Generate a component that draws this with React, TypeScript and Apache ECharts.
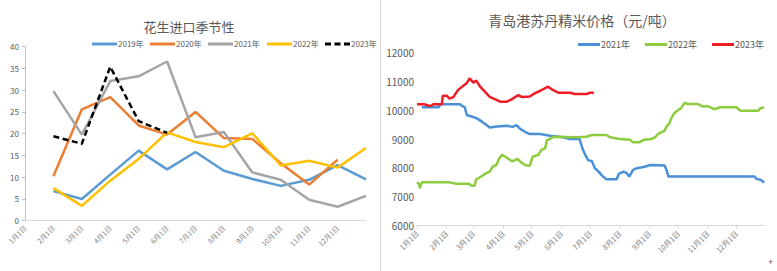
import React, { useEffect, useRef } from "react";
import * as echarts from "echarts";

// ---------- Left chart: 花生进口季节性 ----------
const leftTitle = "花生进口季节性";
const leftCategories = [
  "1月1日", "2月1日", "3月1日", "4月1日", "5月1日", "6月1日", "7月1日",
  "8月1日", "9月1日", "10月1日", "11月1日", "12月1日", "",
];
const leftSeriesNames = ["2019年", "2020年", "2021年", "2022年", "2023年"];
const peanut2019 = [null, 6.8, 5.0, 10.6, 16.1, 11.8, 15.8, 11.5, 9.6, 8.0, 9.4, 12.8, 9.5];
const peanut2020 = [null, 10.2, 25.6, 28.4, 21.9, 19.8, 25.0, 19.0, 18.8, 13.2, 8.3, 14.0, null];
const peanut2021 = [null, 29.8, 19.8, 32.1, 33.2, 36.6, 19.2, 20.4, 11.1, 9.4, 4.8, 3.2, 5.7];
const peanut2022 = [null, 7.5, 3.4, 9.2, 14.2, 20.3, 18.1, 16.9, 20.1, 12.7, 13.8, 12.2, 16.7];
const peanut2023 = [null, 19.4, 17.7, 35.4, 22.9, 20.2, null, null, null, null, null, null, null];

// ---------- Right chart: 青岛港苏丹精米价格 ----------
const rightTitle = "青岛港苏丹精米价格（元/吨）";
const rightSeriesNames = ["2021年", "2022年", "2023年"];
const monthDays = [31, 28, 31, 30, 31, 30, 31, 31, 30, 31, 30, 31];
// [day of year (0 = 1月1日), price]
const rice2021: [number, number][] = [
  [5, 10100], [23, 10100], [24, 10200], [45, 10200], [47, 10150], [50, 10100],
  [52, 9830], [57, 9780], [62, 9720], [68, 9600], [72, 9500], [76, 9400],
  [84, 9430], [94, 9460], [100, 9420], [104, 9480], [108, 9350], [113, 9250],
  [118, 9170], [129, 9170], [139, 9110], [153, 9060], [160, 9000], [170, 9000],
  [173, 8680], [176, 8450], [179, 8270], [183, 8230], [186, 7990], [190, 7870],
  [193, 7750], [198, 7610], [209, 7610], [211, 7790], [216, 7870], [219, 7830],
  [222, 7700], [226, 7930], [230, 7990], [238, 8040], [244, 8100], [259, 8080],
  [261, 7930], [263, 7700], [353, 7700], [355, 7620], [360, 7580], [363, 7490],
];
const rice2022: [number, number][] = [
  [0, 7500], [2, 7450], [3, 7300], [5, 7500], [34, 7500], [41, 7450], [54, 7450],
  [57, 7380], [60, 7380], [62, 7600], [68, 7720], [72, 7810], [76, 7870],
  [79, 8040], [83, 8100], [86, 8330], [89, 8450], [94, 8350], [99, 8240],
  [101, 8240], [105, 8310], [109, 8190], [113, 8100], [118, 8070], [121, 8390],
  [127, 8450], [130, 8620], [134, 8680], [136, 8960], [139, 9000], [143, 9080],
  [167, 9060], [177, 9080], [183, 9140], [198, 9140], [202, 9060], [212, 9000],
  [223, 8970], [226, 8890], [233, 8890], [237, 8970], [244, 8990], [249, 9060],
  [252, 9170], [255, 9220], [259, 9290], [261, 9430], [264, 9540], [266, 9720],
  [269, 9890], [273, 10000], [276, 10060], [280, 10260], [283, 10210], [294, 10210],
  [299, 10120], [304, 10140], [311, 10030], [317, 10100], [334, 10100], [338, 9980],
  [357, 9980], [359, 10060], [363, 10100],
];
const rice2023: [number, number][] = [
  [0, 10200], [8, 10200], [12, 10150], [15, 10150], [17, 10200], [26, 10200],
  [27, 10500], [31, 10500], [34, 10400], [38, 10450], [43, 10700], [48, 10830],
  [52, 10930], [55, 11100], [59, 10950], [62, 11020], [66, 10810], [71, 10640],
  [76, 10460], [82, 10370], [87, 10290], [94, 10290], [99, 10370], [106, 10520],
  [110, 10450], [118, 10470], [123, 10580], [129, 10670], [137, 10810], [141, 10720],
  [148, 10600], [160, 10600], [165, 10560], [178, 10560], [181, 10600], [185, 10600],
];

const FONT = "Noto Sans CJK SC";
const leftColors = ["#5B9BD5", "#ED7D31", "#A5A5A5", "#FFC000", "#000000"];
const rightColors = ["#4A90D9", "#8DCB3F", "#EE1C25"];

const SOLID_ICON = "path://M0,0H25V3H0Z";
const DASH_ICON = "path://M0,0H6V3H0Z M9.5,0H15.5V3H9.5Z M19,0H25V3H19Z";

export default function App() {
  const ref = useRef<HTMLDivElement>(null);

  useEffect(() => {
    if (!ref.current) return;
    const chart = echarts.init(ref.current, undefined, { renderer: "svg" });

    const dayCats: string[] = [];
    monthDays.forEach((n, m) => {
      for (let d = 1; d <= n; d++) dayCats.push(`${m + 1}月${d}日`);
    });
    const isMonthStart = (_i: number, v: string) => String(v).split("月")[1] === "1日";
    const toCat = (arr: [number, number][]) => arr.map(([d, v]) => [dayCats[d], v]);

    const leftLegendX = [92, 150, 208, 267, 325];
    const rightLegendX = [578, 645, 712];
    const rightKey = (n: string) => n + " ";

    const legends: any[] = [
      ...leftSeriesNames.map((n, i) => ({
        data: [{ name: n, icon: i === 4 ? DASH_ICON : SOLID_ICON }],
        left: leftLegendX[i],
        top: 40,
        itemWidth: 25,
        itemHeight: 3,
        symbolKeepAspect: false,
        padding: 0,
        textStyle: { fontSize: 8, color: "#595959", fontFamily: FONT, padding: [0, 0, 0, -4] },
      })),
      ...rightSeriesNames.map((n, i) => ({
        data: [{ name: rightKey(n), icon: SOLID_ICON }],
        formatter: (s: string) => s.trim(),
        left: rightLegendX[i],
        top: 40,
        itemWidth: 22,
        itemHeight: 3,
        symbolKeepAspect: false,
        padding: 0,
        textStyle: { fontSize: 9, color: "#595959", fontFamily: FONT, padding: [0, 0, 0, -4] },
      })),
    ];

    const lw = 2.5;
    const leftData = [peanut2019, peanut2020, peanut2021, peanut2022, peanut2023];
    const rightData = [rice2021, rice2022, rice2023];

    chart.setOption({
      animation: false,
      textStyle: { fontFamily: FONT },
      title: [
        {
          text: leftTitle,
          left: 184,
          top: 15,
          textAlign: "center",
          textStyle: { fontSize: 13, fontWeight: "normal", color: "#595959", fontFamily: FONT },
        },
        {
          text: rightTitle,
          left: 577,
          top: 8,
          textAlign: "center",
          textStyle: { fontSize: 14, fontWeight: "normal", color: "#595959", fontFamily: FONT },
        },
      ],
      legend: legends,
      grid: [
        { left: 25, top: 46.7, width: 341, height: 174 },
        { left: 417, top: 52.3, width: 348, height: 173.4 },
      ],
      xAxis: [
        {
          type: "category",
          gridIndex: 0,
          data: leftCategories,
          boundaryGap: false,
          axisLine: { lineStyle: { color: "#D9D9D9" } },
          axisTick: { show: false },
          axisLabel: { rotate: 45, fontSize: 7, color: "#808080", margin: 6, interval: 0, fontFamily: FONT },
        },
        {
          type: "category",
          gridIndex: 1,
          data: dayCats,
          boundaryGap: false,
          axisLine: { lineStyle: { color: "#D9D9D9" } },
          axisTick: { show: true, interval: isMonthStart, length: 3, lineStyle: { color: "#D9D9D9" } },
          axisLabel: { rotate: 45, fontSize: 7.5, color: "#808080", margin: 6, interval: isMonthStart, fontFamily: FONT },
        },
      ],
      yAxis: [
        {
          type: "value",
          gridIndex: 0,
          min: 0,
          max: 40,
          interval: 5,
          axisLine: { show: true, lineStyle: { color: "#BFBFBF" } },
          axisTick: { show: true, length: 3, lineStyle: { color: "#BFBFBF" } },
          splitLine: { show: false },
          axisLabel: { fontSize: 8, color: "#595959", margin: 6, fontFamily: FONT },
        },
        {
          type: "value",
          gridIndex: 1,
          min: 6000,
          max: 12000,
          interval: 1000,
          axisLine: { show: false },
          axisTick: { show: false },
          splitLine: { show: false },
          axisLabel: { fontSize: 10, color: "#595959", margin: 3, fontFamily: FONT, formatter: (v: number) => String(v) },
        },
      ],
      series: [
        ...leftSeriesNames.map((n, i) => ({
          name: n,
          type: "line",
          xAxisIndex: 0,
          yAxisIndex: 0,
          data: leftData[i],
          symbol: "none",
          lineStyle: { width: lw, color: leftColors[i], type: i === 4 ? [6, 3.5] : "solid" },
          itemStyle: { color: leftColors[i] },
        })),
        ...rightSeriesNames.map((n, i) => ({
          name: rightKey(n),
          type: "line",
          xAxisIndex: 1,
          yAxisIndex: 1,
          data: toCat(rightData[i]),
          symbol: "none",
          lineStyle: { width: lw, color: rightColors[i] },
          itemStyle: { color: rightColors[i] },
        })),
      ],
      graphic: [
        { type: "line", shape: { x1: 380.5, y1: 0, x2: 380.5, y2: 271 }, style: { stroke: "#D9D9D9", lineWidth: 1 } },
        { type: "text", left: 768, top: 257, style: { text: "+", fontSize: 9, fill: "#595959" } },
      ],
    });

    return () => chart.dispose();
  }, []);

  return (
    <div
      ref={ref}
      style={{ position: "fixed", left: 0, top: 0, width: 777, height: 271, background: "#fff" }}
    />
  );
}
